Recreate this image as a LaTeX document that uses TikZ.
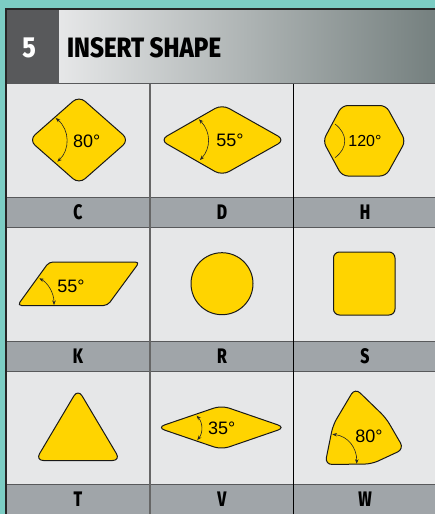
\documentclass[tikz,border=0pt]{standalone}
\usepackage{fontspec}
\setmainfont{Liberation Sans}
\newfontfamily\headfont{Fira Sans ExtraBold}
\usetikzlibrary{arrows.meta}
\definecolor{tealbg}{HTML}{7CCDC4}
\definecolor{darkbar}{HTML}{58595B}
\definecolor{cellgray}{HTML}{E6E7E8}
\definecolor{labelgray}{HTML}{A0A5A9}
\definecolor{insertyellow}{HTML}{FFD400}
\definecolor{gradend}{HTML}{75807F}
\tikzset{
    insertshape/.style={draw=black!90, line width=1pt, fill=insertyellow, rounded corners=#1},
    insertshape/.default=8pt,
    anglemark/.style={draw=black!85, line width=0.6pt, {Stealth[length=4.5pt,width=3.5pt]}-{Stealth[length=4.5pt,width=3.5pt]}},
    anglelabel/.style={font=\fontsize{18}{18}\selectfont},
    lettercell/.style={xscale=0.75, font=\headfont\fontsize{21}{21}\selectfont}
}
\begin{document}
\begin{tikzpicture}[x=1pt,y=-1pt]
    \useasboundingbox (0,0) rectangle (435,514);
    \fill[tealbg] (0,0) rectangle (435,514);

    % header
    \fill[cellgray] (6,8) rectangle (435,514);
    \shade[left color=cellgray, right color=gradend] (59,9) rectangle (435,83);
    \fill[darkbar] (7,9) rectangle (59,83);
    \node[white, xscale=0.85, font=\headfont\fontsize{29}{29}\selectfont] (num) at (29,48) {5};
    \node[anchor=west, inner sep=0pt, xscale=0.86, font=\headfont\fontsize{28}{28}\selectfont] (title) at (67,48) {INSERT SHAPE};

    % letter bars
    \foreach \y in {197,341,484}
        \fill[labelgray] (7,\y) rectangle (435,\y+30);

    % grid
    \draw[darkbar, line width=1pt] (7,83.5) -- (435,83.5);
    \foreach \y in {197,227,341,371,484}
        \draw[darkbar, line width=1pt] (7,\y) -- (435,\y);
    \draw[black!60, line width=1.2pt] (150,84) -- (150,514);
    \draw[black, line width=0.8pt] (293.5,84) -- (293.5,514);
    \draw[black!85, line width=2pt] (6,8.5) -- (435,8.5);
    \draw[black!85, line width=2pt] (6,8) -- (6,514);

    % C
    \draw[insertshape] (29,140) -- (79,96) -- (129,140) -- (79,184) -- cycle;
    \draw[anglemark] (55.7,118) .. controls (70,130) and (70,150) .. (57.3,161.7);
    \node[anglelabel] (angleC) at (86.7,141) {80°};
    % D
    \draw[insertshape] (160,140) -- (222,104.5) -- (285,140) -- (222,175.5) -- cycle;
    \draw[anglemark] (199,119.3) .. controls (211,132) and (211,148) .. (200,160);
    \node[anglelabel] (angleD) at (230,140) {55°};
    % H
    \draw[insertshape=6pt] (323,141) -- (342,105.5) -- (386,105.5) -- (405.5,141) -- (386,176) -- (342,176) -- cycle;
    \draw[draw=black!85, line width=0.6pt] (335,124) .. controls (348,134) and (348,148) .. (335,157.7);
    \node[font=\fontsize{16}{16}\selectfont] (angleH) at (365,141) {120°};

    % K
    \draw[insertshape=4pt] (49,262) -- (139.5,262) -- (107.5,305.5) -- (17.5,305.5) -- cycle;
    \draw[anglemark] (39.3,278.3) .. controls (48,283) and (54,293) .. (54,305);
    \node[anglelabel] (angleK) at (71,286.7) {55°};
    % R
    \draw[insertshape=0pt] (222,283.7) circle (31);
    % S
    \draw[insertshape=6pt] (333.5,252) rectangle (395,315);

    % T
    \draw[insertshape] (78,389) -- (120.5,460.5) -- (35.5,460.5) -- cycle;
    % V
    \draw[insertshape] (157,427.5) -- (221.5,405.5) -- (285.5,427.5) -- (221.5,449.5) -- cycle;
    \draw[anglemark] (196.7,415.7) .. controls (203,423) and (203,433) .. (197.3,440);
    \node[anglelabel] (angleV) at (221.7,428.3) {35°};
    % W
    \draw[insertshape=7pt] (355,388) -- (386,418) -- (404,449) -- (371.7,464) -- (325,464.5) -- (333,425) -- cycle;
    \draw[anglemark] (332.3,434.3) .. controls (348,436) and (357,448) .. (356.7,463.7);
    \node[anglelabel] (angleW) at (369,436.7) {80°};

    % letters
    \node[lettercell] (letterC) at (78,212) {C};
    \node[lettercell] (letterD) at (222,212) {D};
    \node[lettercell] (letterH) at (365,212) {H};
    \node[lettercell] (letterK) at (78,356) {K};
    \node[lettercell] (letterR) at (222,356) {R};
    \node[lettercell] (letterS) at (365,356) {S};
    \node[lettercell] (letterT) at (78,499) {T};
    \node[lettercell] (letterV) at (222,499) {V};
    \node[lettercell] (letterW) at (365,499) {W};
\end{tikzpicture}
\end{document}
